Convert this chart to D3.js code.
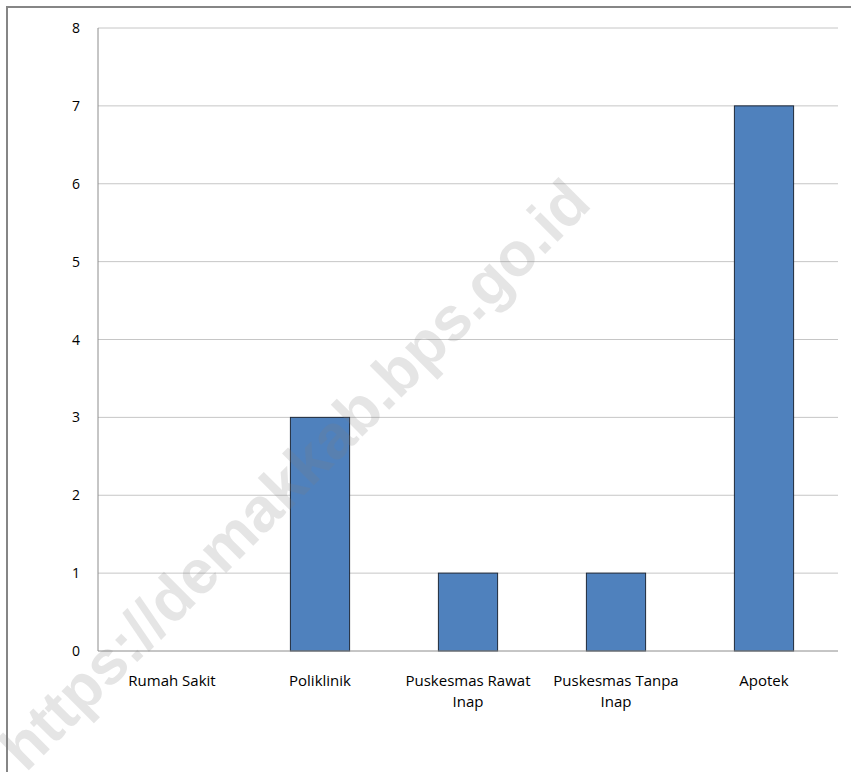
<!DOCTYPE html>
<html>
<head>
<meta charset="utf-8">
<script src="https://cdn.jsdelivr.net/npm/d3@7"></script>
<style>
  body { margin: 0; background: #fff; }
  svg { display: block; }
</style>
</head>
<body>
<svg width="851" height="772"></svg>
<script>
// Données
let kategori = [["Rumah Sakit"], ["Poliklinik"], ["Puskesmas Rawat", "Inap"], ["Puskesmas Tanpa", "Inap"], ["Apotek"]];
let nilai = [0, 3, 1, 1, 7];
let yTicks = [0, 1, 2, 3, 4, 5, 6, 7, 8];

let svg = d3.select("svg");
let font = "'Open Sans', 'Noto Sans', sans-serif";

// cadre
svg.append("rect")
    .attr("x", 7).attr("y", 7)
    .attr("width", 860).attr("height", 790)
    .attr("fill", "none")
    .attr("stroke", "#868686")
    .attr("stroke-width", 2);

let gauche = 98, droite = 838, haut = 28, bas = 651;

let x = d3.scaleBand()
    .domain(kategori.map((d, i) => i))
    .range([gauche, droite])
    .paddingInner(0.6)
    .paddingOuter(0.3);

let y = d3.scaleLinear().domain([0, 8]).range([bas, haut]);

// grille
svg.append("g").selectAll("line")
    .data(yTicks.filter(d => d > 0))
    .enter().append("line")
    .attr("x1", gauche).attr("x2", droite)
    .attr("y1", d => y(d)).attr("y2", d => y(d))
    .attr("stroke", "#c6c6c6")
    .attr("stroke-width", 1);

// barres
svg.append("g").selectAll("rect")
    .data(nilai)
    .enter().append("rect")
    .attr("x", (d, i) => x(i))
    .attr("width", x.bandwidth())
    .attr("y", d => y(d))
    .attr("height", d => bas - y(d))
    .attr("fill", "#4f81bd")
    .attr("stroke", "#1f2a3a")
    .attr("stroke-width", 1)
    .style("display", d => d > 0 ? null : "none");

// axes
svg.append("line")
    .attr("x1", gauche).attr("x2", gauche)
    .attr("y1", haut).attr("y2", bas)
    .attr("stroke", "#8c8c8c");
svg.append("line")
    .attr("x1", gauche).attr("x2", droite)
    .attr("y1", bas).attr("y2", bas)
    .attr("stroke", "#8c8c8c");

// labels y
svg.append("g").selectAll("text")
    .data(yTicks)
    .enter().append("text")
    .attr("x", 80)
    .attr("y", d => y(d) + 5)
    .attr("text-anchor", "end")
    .style("font-family", font)
    .style("font-size", "14px")
    .attr("fill", "#000")
    .text(d => d);

// labels x
let lab = svg.append("g").selectAll("text")
    .data(kategori)
    .enter().append("text")
    .attr("x", (d, i) => x(i) + x.bandwidth() / 2)
    .attr("y", 686)
    .attr("text-anchor", "middle")
    .style("font-family", font)
    .style("font-size", "15px")
    .attr("fill", "#000");
lab.selectAll("tspan")
    .data(d => d)
    .enter().append("tspan")
    .attr("x", function () { return d3.select(this.parentNode).attr("x"); })
    .attr("dy", (d, i) => i == 0 ? 0 : 21)
    .text(d => d);

// filigrane
svg.append("text")
    .attr("transform", "translate(298,478) rotate(-45)")
    .attr("text-anchor", "middle")
    .attr("dominant-baseline", "middle")
    .style("font-family", "'Liberation Sans', Arial, sans-serif")
    .style("font-weight", "bold")
    .style("font-size", "62px")
    .attr("fill", "#808080")
    .attr("opacity", 0.2)
    .text("https://demakkab.bps.go.id");
</script>
</body>
</html>
